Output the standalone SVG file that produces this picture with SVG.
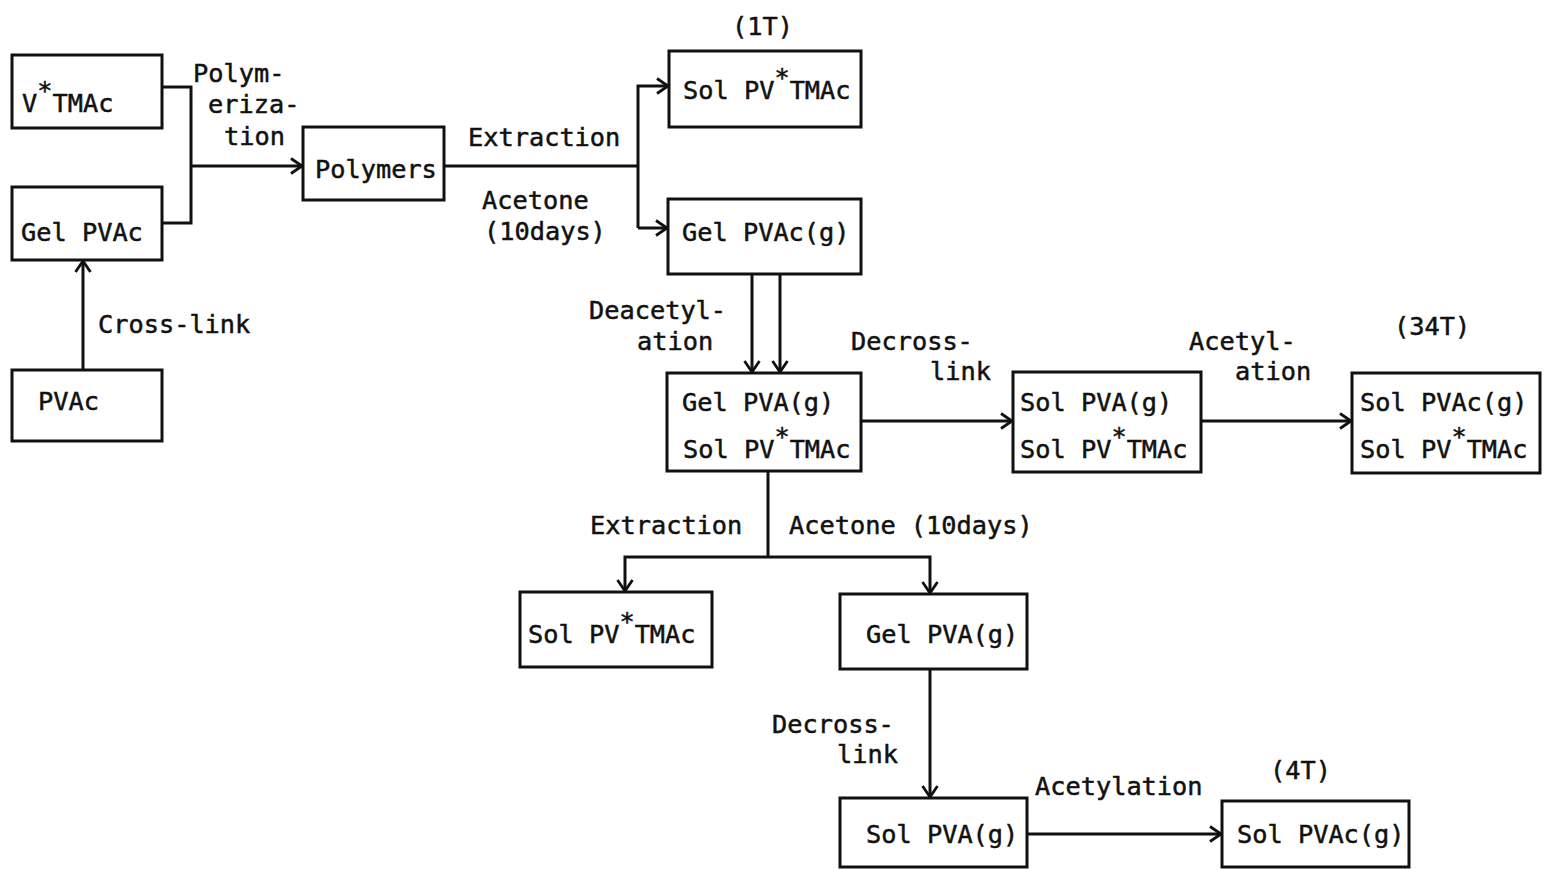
<svg xmlns="http://www.w3.org/2000/svg" width="1544" height="869" viewBox="0 0 1544 869">
<defs>
<style>
text{font-family:"DejaVu Sans Mono","Liberation Mono",monospace;font-size:25.3px;fill:#111;stroke:#111;stroke-width:0.5}
.box{fill:#fff;stroke:#111;stroke-width:3}
.ln{fill:none;stroke:#111;stroke-width:3}
</style>
<marker id="ar" markerUnits="userSpaceOnUse" markerWidth="16" markerHeight="18" refX="13" refY="9" orient="auto">
<path d="M2,1.5 L13,9 L2,16.5" fill="none" stroke="#111" stroke-width="2.8"/>
</marker>
</defs>
<rect width="1544" height="869" fill="#fff"/>

<g id="connectors">
<path class="ln" d="M162,87 H191 V223 H162"/>
<path class="ln" d="M191,166 H302" marker-end="url(#ar)"/>
<path class="ln" d="M83,370 V261" marker-end="url(#ar)"/>
<path class="ln" d="M444,166 H638"/>
<path class="ln" d="M638,228 V86 H668" marker-end="url(#ar)"/>
<path class="ln" d="M638,228 H667" marker-end="url(#ar)"/>
<path class="ln" d="M752,274 V372" marker-end="url(#ar)"/>
<path class="ln" d="M780,274 V372" marker-end="url(#ar)"/>
<path class="ln" d="M861,421 H1012" marker-end="url(#ar)"/>
<path class="ln" d="M1201,421 H1351" marker-end="url(#ar)"/>
<path class="ln" d="M768,471 V557"/>
<path class="ln" d="M768,557 H625 V591" marker-end="url(#ar)"/>
<path class="ln" d="M768,557 H930 V593" marker-end="url(#ar)"/>
<path class="ln" d="M930,669 V797" marker-end="url(#ar)"/>
<path class="ln" d="M1027,834 H1221" marker-end="url(#ar)"/>
</g>

<g id="labels">
<text x="193" y="82">Polym-</text>
<text x="208" y="113">eriza-</text>
<text x="224" y="145">tion</text>
<text x="468" y="146">Extraction</text>
<text x="482" y="209">Acetone</text>
<text x="484" y="240">(10days)</text>
<text x="732" y="35">(1T)</text>
<text x="98" y="333">Cross-link</text>
<text x="589" y="319">Deacetyl-</text>
<text x="637" y="350">ation</text>
<text x="851" y="350">Decross-</text>
<text x="930" y="380">link</text>
<text x="1189" y="350">Acetyl-</text>
<text x="1235" y="380">ation</text>
<text x="1394" y="335">(34T)</text>
<text x="590" y="534">Extraction</text>
<text x="789" y="534">Acetone (10days)</text>
<text x="772" y="733">Decross-</text>
<text x="837" y="763">link</text>
<text x="1035" y="795">Acetylation</text>
<text x="1270" y="779">(4T)</text>
</g>

<g id="n-vtmac"><rect class="box" x="12" y="55" width="150" height="73"/>
<text x="22" y="112">V<tspan dy="-13">*</tspan><tspan dy="13">TMAc</tspan></text></g>
<g id="n-gelpvac"><rect class="box" x="12" y="187" width="150" height="73"/>
<text x="21" y="241">Gel PVAc</text></g>
<g id="n-pvac"><rect class="box" x="12" y="370" width="150" height="71"/>
<text x="38" y="410">PVAc</text></g>
<g id="n-polymers"><rect class="box" x="303" y="127" width="141" height="73"/>
<text x="315" y="178">Polymers</text></g>
<g id="n-sol1t"><rect class="box" x="669" y="51" width="192" height="76"/>
<text x="683" y="99">Sol PV<tspan dy="-13">*</tspan><tspan dy="13">TMAc</tspan></text></g>
<g id="n-gelpvacg"><rect class="box" x="668" y="199" width="193" height="75"/>
<text x="682" y="241">Gel PVAc(g)</text></g>
<g id="n-gelpva-sol"><rect class="box" x="667" y="373" width="194" height="98"/>
<text x="682" y="411">Gel PVA(g)</text>
<text x="683" y="458">Sol PV<tspan dy="-13">*</tspan><tspan dy="13">TMAc</tspan></text></g>
<g id="n-solpva-sol"><rect class="box" x="1013" y="372" width="188" height="100"/>
<text x="1020" y="411">Sol PVA(g)</text>
<text x="1020" y="458">Sol PV<tspan dy="-13">*</tspan><tspan dy="13">TMAc</tspan></text></g>
<g id="n-34t"><rect class="box" x="1352" y="373" width="188" height="100"/>
<text x="1360" y="411">Sol PVAc(g)</text>
<text x="1360" y="458">Sol PV<tspan dy="-13">*</tspan><tspan dy="13">TMAc</tspan></text></g>
<g id="n-sol-bl"><rect class="box" x="520" y="592" width="192" height="75"/>
<text x="528" y="643">Sol PV<tspan dy="-13">*</tspan><tspan dy="13">TMAc</tspan></text></g>
<g id="n-gelpvag"><rect class="box" x="840" y="594" width="187" height="75"/>
<text x="866" y="643">Gel PVA(g)</text></g>
<g id="n-solpvag"><rect class="box" x="840" y="798" width="187" height="69"/>
<text x="866" y="843">Sol PVA(g)</text></g>
<g id="n-4t"><rect class="box" x="1222" y="801" width="187" height="66"/>
<text x="1237" y="843">Sol PVAc(g)</text></g>
</svg>
